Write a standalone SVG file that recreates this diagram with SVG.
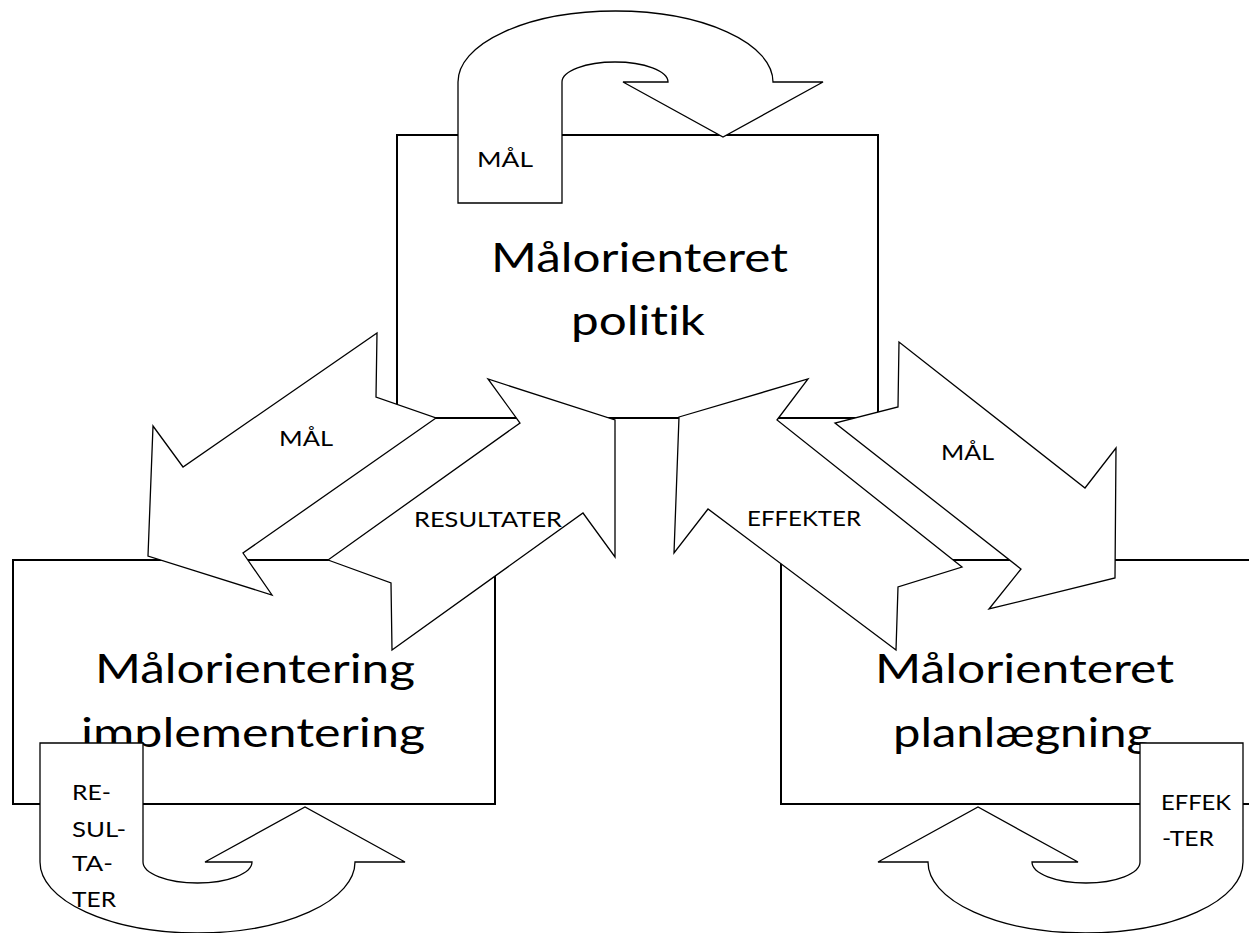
<svg xmlns="http://www.w3.org/2000/svg" width="1249" height="933" viewBox="0 0 1249 933">
<style>
.box{fill:#fff;stroke:#000;stroke-width:2}
.arr{fill:#fff;stroke:#000;stroke-width:1.3;stroke-linejoin:miter}
text{font-variant-ligatures:none;font-feature-settings:"liga" 0,"clig" 0}
.big{font-family:Lato,"Liberation Sans",sans-serif;font-size:40px;fill:#000}
.sm{font-family:Lato,"Liberation Sans",sans-serif;font-size:22px;fill:#000}
</style>
<rect width="1249" height="933" fill="#fff"/>
<g id="box-politik">
<rect class="box" x="397" y="135" width="481" height="283"/>
<text class="big" x="491" y="272" textLength="297" lengthAdjust="spacingAndGlyphs">Målorienteret</text>
<text class="big" x="571" y="335" textLength="134" lengthAdjust="spacingAndGlyphs">politik</text>
</g>
<g id="box-implementering">
<rect class="box" x="13" y="560" width="482" height="244"/>
<text class="big" x="95" y="683" textLength="320" lengthAdjust="spacingAndGlyphs">Målorientering</text>
<text class="big" x="81" y="747" textLength="344" lengthAdjust="spacingAndGlyphs">implementering</text>
</g>
<g id="box-planlaegning">
<rect class="box" x="781" y="560" width="486" height="244"/>
<text class="big" x="875" y="683" textLength="299" lengthAdjust="spacingAndGlyphs">Målorienteret</text>
<text class="big" x="893" y="747" textLength="259" lengthAdjust="spacingAndGlyphs">planlægning</text>
</g>
<g id="connectors">
<g id="loop-mal">
<path class="arr" d="M458,203 L458,82 A157.5,71 0 0 1 773,82 L823,82 L723,137 L623,82 L668,82 A53,20 0 0 0 562,82 L562,203 Z"/>
<text class="sm" x="477" y="167" textLength="56" lengthAdjust="spacingAndGlyphs">MÅL</text>
</g>
<g id="arrow-mal-left">
<path class="arr" d="M377,333 L376,397 L436,418 L243,553 L272,595 L148,556 L153,426 L183,467 Z"/>
<text class="sm" x="279" y="446" textLength="54" lengthAdjust="spacingAndGlyphs">MÅL</text>
</g>
<g id="arrow-resultater">
<path class="arr" d="M328,560 L391,583 L392,650 L583,513 L615,557 L615,420 L488,379 L520,423 Z"/>
<text class="sm" x="414" y="527" textLength="148" lengthAdjust="spacingAndGlyphs">RESULTATER</text>
</g>
<g id="arrow-effekter">
<path class="arr" d="M679,417 L808,379 L777,420 L962,567 L898,587 L896,650 L708,509 L674,553 Z"/>
<text class="sm" x="747" y="526" textLength="114" lengthAdjust="spacingAndGlyphs">EFFEKTER</text>
</g>
<g id="arrow-mal-right">
<path class="arr" d="M899,342 L898,407 L835,423 L1021,569 L989,609 L1115,578 L1116,448 L1085,488 Z"/>
<text class="sm" x="941" y="460" textLength="53" lengthAdjust="spacingAndGlyphs">MÅL</text>
</g>
<g id="loop-resultater">
<path class="arr" d="M40,743 L40,862 A157.5,71 0 0 0 355,862 L405,862 L305,807 L205,862 L252,862 A54.5,21 0 0 1 143,862 L143,743 Z"/>
<text class="sm" x="72" y="800" textLength="39" lengthAdjust="spacingAndGlyphs">RE-</text>
<text class="sm" x="72" y="837" textLength="54" lengthAdjust="spacingAndGlyphs">SUL-</text>
<text class="sm" x="72" y="871" textLength="41" lengthAdjust="spacingAndGlyphs">TA-</text>
<text class="sm" x="72" y="907" textLength="44" lengthAdjust="spacingAndGlyphs">TER</text>
</g>
<g id="loop-effekter">
<path class="arr" d="M1243,743 L1243,862 A157.5,71 0 0 1 928,862 L878,862 L978,807 L1078,862 L1032,862 A54,21 0 0 0 1140,862 L1140,743 Z"/>
<text class="sm" x="1161" y="810" textLength="70" lengthAdjust="spacingAndGlyphs">EFFEK</text>
<text class="sm" x="1162" y="846" textLength="52" lengthAdjust="spacingAndGlyphs">-TER</text>
</g>
</g>
</svg>
